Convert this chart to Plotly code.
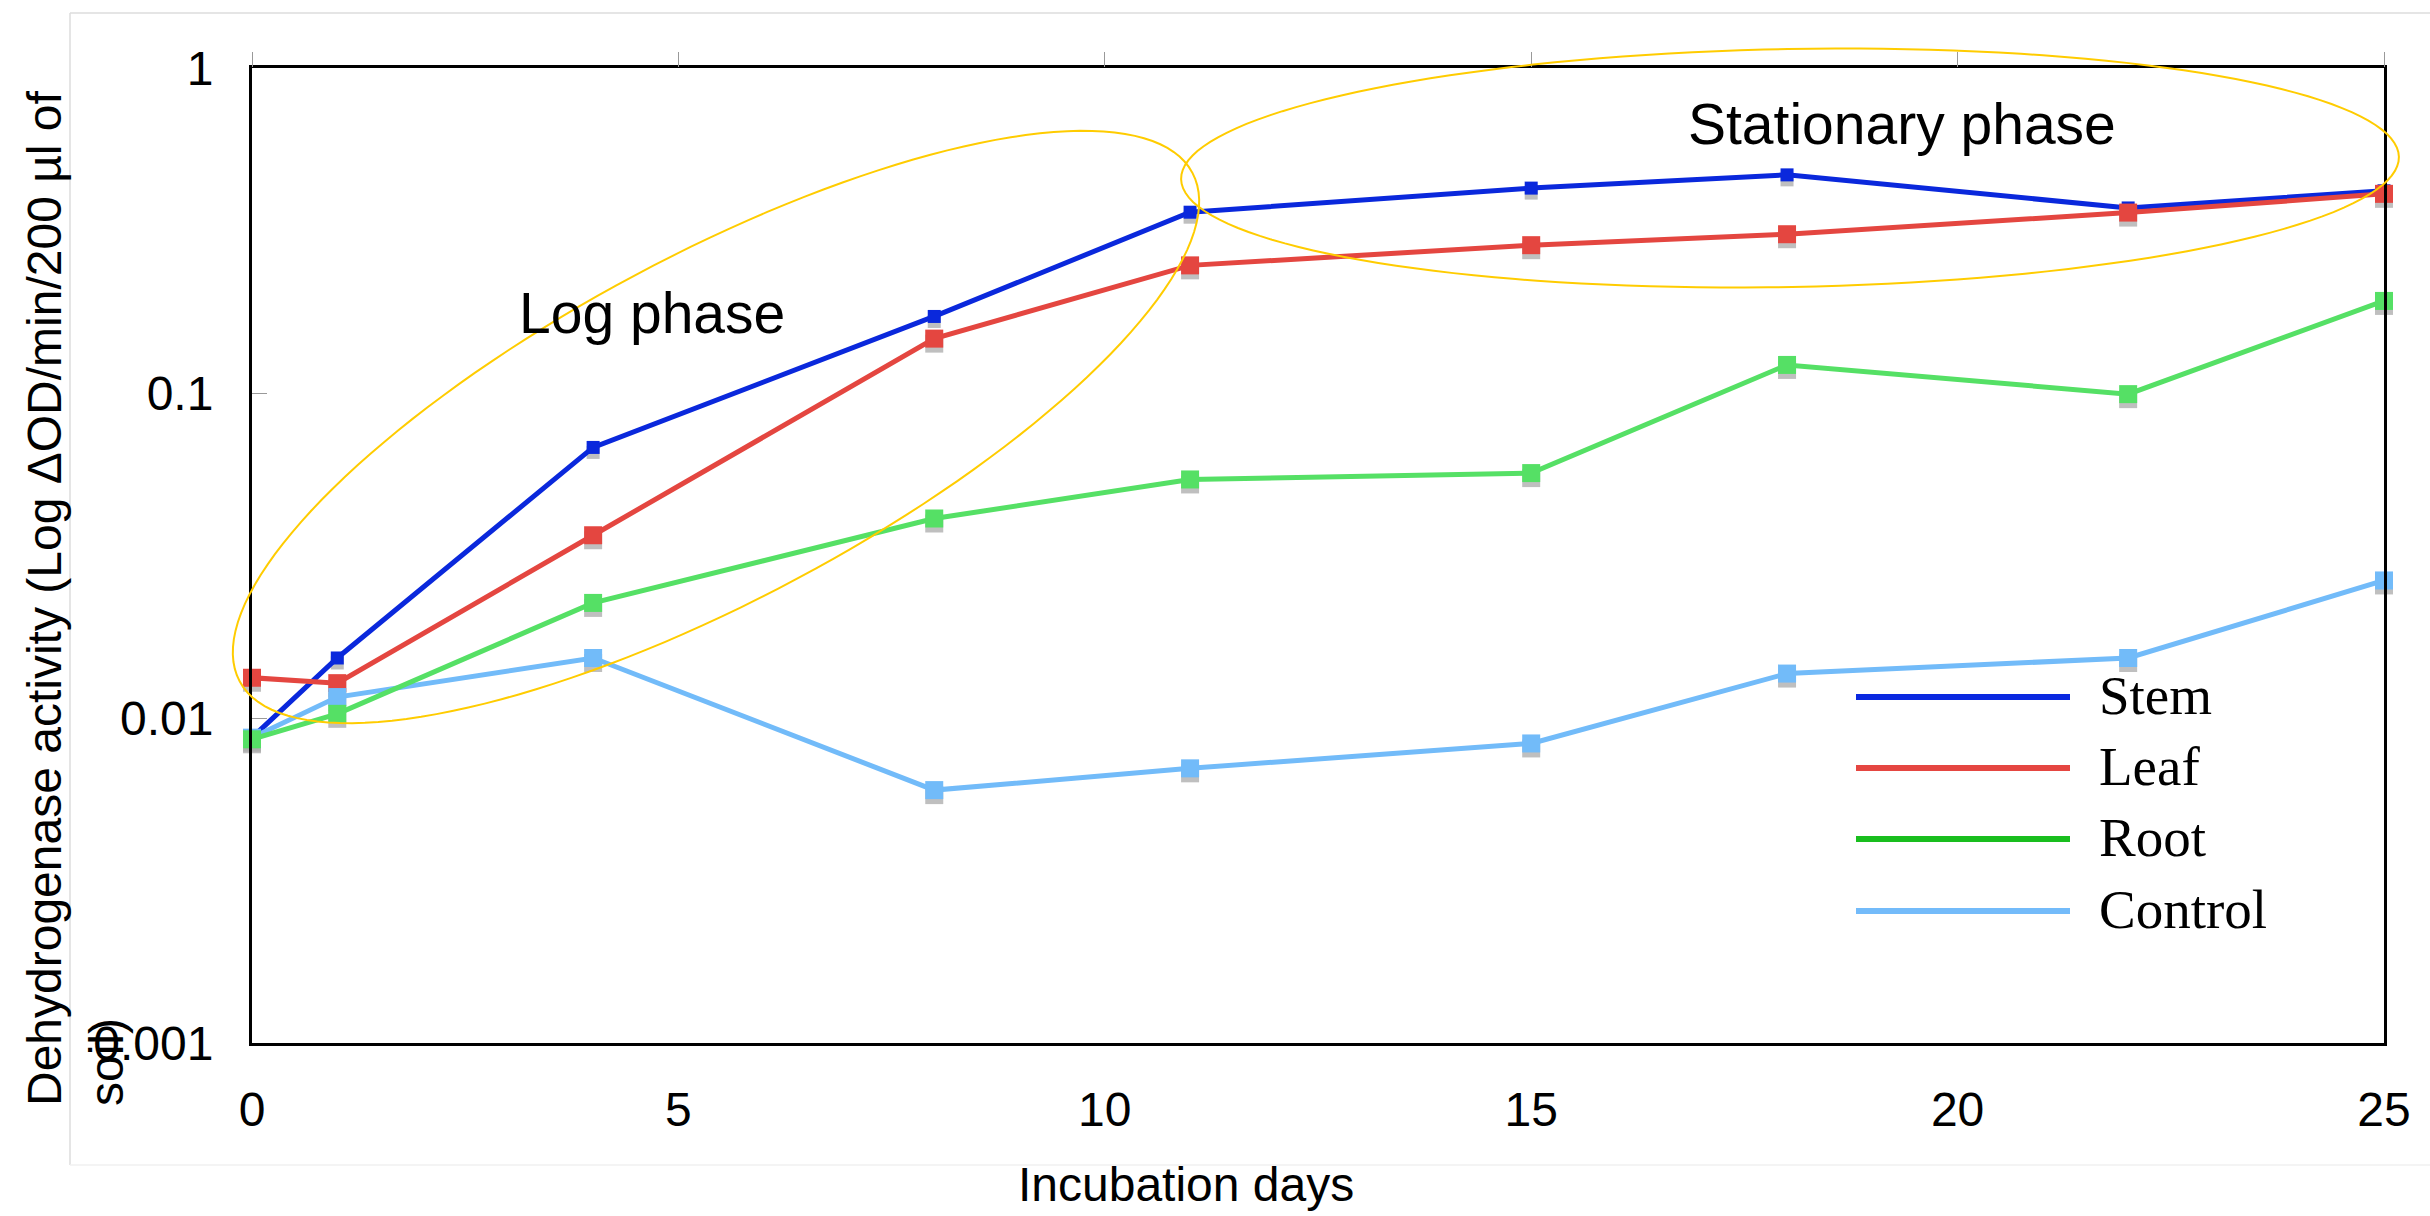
import numpy as np
import plotly.graph_objects as go

# Incubation time points (days)
days = [0, 1, 4, 8, 11, 15, 18, 22, 25]

# Dehydrogenase activity (ΔOD/min/200 µl of soil) per treatment
stem = [0.0087, 0.0153, 0.068, 0.172, 0.360, 0.427, 0.469, 0.371, 0.419]
leaf = [0.0133, 0.0128, 0.0365, 0.147, 0.247, 0.285, 0.308, 0.359, 0.410]
root = [0.0086, 0.0103, 0.0226, 0.0411, 0.0542, 0.0567, 0.122, 0.0992, 0.192]
control = [0.0087, 0.0116, 0.0153, 0.0060, 0.0070, 0.00835, 0.0137, 0.0153, 0.0265]

series_names = ["Stem", "Leaf", "Root", "Control"]
series_values = {"Stem": stem, "Leaf": leaf, "Root": root, "Control": control}
line_colors = {"Stem": "#0A28DC", "Leaf": "#E44640", "Root": "#55E065", "Control": "#72BBF9"}
key_colors = {"Stem": "#0A28E0", "Leaf": "#E54641", "Root": "#19BE1E", "Control": "#73BBFA"}
marker_sizes = {"Stem": 13, "Leaf": 18, "Root": 18, "Control": 18}
draw_order = ["Stem", "Leaf", "Control", "Root"]

x_ticks = [0, 5, 10, 15, 20, 25]
y_ticks = [0.001, 0.01, 0.1, 1]
y_tick_text = ["0.001", "0.01", "0.1", "1"]

# Figure geometry (pixels)
W, H = 2430, 1216
ML, MR, MT, MB = 252, 46, 68, 173
PW, PH = W - ML - MR, H - MT - MB
PX_PER_DECADE = PH / 3.0
SHADOW_PX = 5


def paper(xp, yp):
    """Pixel position on the page -> paper coordinates."""
    return (xp - ML) / PW, (H - MB - yp) / PH


def ellipse_path(cx, cy, a, b, tilt_deg, n=160):
    phi = np.radians(tilt_deg)
    t = np.linspace(0, 2 * np.pi, n, endpoint=False)
    xs = cx + a * np.cos(t) * np.cos(phi) - b * np.sin(t) * np.sin(phi)
    ys = cy - (a * np.cos(t) * np.sin(phi) + b * np.sin(t) * np.cos(phi))
    pts = [paper(x, y) for x, y in zip(xs, ys)]
    return "M " + " L ".join(f"{px:.5f},{py:.5f}" for px, py in pts) + " Z"


fig = go.Figure()

shadow_factor = 10 ** (-SHADOW_PX / PX_PER_DECADE)
for name in draw_order:
    vals = series_values[name]
    # soft drop shadow under each marker
    fig.add_trace(go.Scatter(
        x=days, y=[v * shadow_factor for v in vals], mode="markers",
        marker=dict(symbol="square", size=marker_sizes[name], color="rgba(170,170,170,0.75)"),
        showlegend=False, hoverinfo="skip", cliponaxis=False,
    ))
    fig.add_trace(go.Scatter(
        x=days, y=vals, mode="lines+markers", name=name,
        line=dict(color=line_colors[name], width=5),
        marker=dict(symbol="square", size=marker_sizes[name], color=line_colors[name]),
        showlegend=False, cliponaxis=False,
    ))

# carrier for the top tick axis
fig.add_trace(go.Scatter(x=[0, 25], y=[None, None], xaxis="x2", mode="lines",
                         showlegend=False, hoverinfo="skip"))

font_sans = "Liberation Sans, Arial, sans-serif"
font_serif = "Liberation Serif, Times New Roman, serif"

shapes = []
# light outer frame
fx0, fy0 = paper(70, 1165)
fx1, fy1 = paper(2440, 13)
shapes.append(dict(type="line", xref="paper", yref="paper", x0=fx0, x1=fx0, y0=fy0, y1=fy1,
                   line=dict(color="#DCDCDC", width=1.5), layer="below"))
shapes.append(dict(type="line", xref="paper", yref="paper", x0=fx0, x1=fx1, y0=fy1, y1=fy1,
                   line=dict(color="#DCDCDC", width=1.5), layer="below"))
shapes.append(dict(type="line", xref="paper", yref="paper", x0=fx0, x1=fx1, y0=fy0, y1=fy0,
                   line=dict(color="#F0F0F0", width=1.5), layer="below"))

# phase outlines
shapes.append(dict(type="path", xref="paper", yref="paper",
                   path=ellipse_path(716, 427, 540, 172, 28.1),
                   line=dict(color="#FFCC00", width=2)))
shapes.append(dict(type="path", xref="paper", yref="paper",
                   path=ellipse_path(1790, 168, 609, 119, 1.05),
                   line=dict(color="#FFCC00", width=2)))

annotations = []
# legend keys
key_x0, key_x1, text_x = 1856, 2070, 2097
row_y = [697, 768, 839, 911]
for name, yy in zip(series_names, row_y):
    x0p, yp = paper(key_x0, yy)
    x1p, _ = paper(key_x1, yy)
    shapes.append(dict(type="line", xref="paper", yref="paper", x0=x0p, x1=x1p, y0=yp, y1=yp,
                       line=dict(color=key_colors[name], width=6)))
    tx, ty = paper(text_x, yy - 2)
    annotations.append(dict(text=name, xref="paper", yref="paper", x=tx, y=ty,
                            xanchor="left", yanchor="middle", showarrow=False,
                            font=dict(family=font_serif, size=55, color="black")))

# phase labels
for label, cx, cy in [("Log phase", 652, 313), ("Stationary phase", 1902, 124)]:
    ax, ay = paper(cx, cy)
    annotations.append(dict(text=label, xref="paper", yref="paper", x=ax, y=ay,
                            xanchor="center", yanchor="middle", showarrow=False,
                            font=dict(family=font_sans, size=57, color="black")))

# axis titles
tx, ty = paper(1186, 1184)
annotations.append(dict(text="Incubation days", xref="paper", yref="paper", x=tx, y=ty,
                        xanchor="center", yanchor="middle", showarrow=False,
                        font=dict(family=font_sans, size=48, color="black")))
tx, ty = paper(75, 598)
annotations.append(dict(text="Dehydrogenase activity (Log ΔOD/min/200 µl of<br>soil)",
                        xref="paper", yref="paper", x=tx, y=ty, textangle=-90, align="left",
                        xanchor="center", yanchor="middle", showarrow=False,
                        font=dict(family=font_sans, size=48, color="black")))

fig.update_layout(
    width=W, height=H,
    margin=dict(l=ML, r=MR, t=MT, b=MB),
    paper_bgcolor="white", plot_bgcolor="white",
    showlegend=False,
    xaxis=dict(range=[0, 25], tickvals=x_ticks, ticks="", showgrid=False, zeroline=False,
               showline=True, linecolor="black", linewidth=3, mirror=True,
               ticklabelstandoff=22,
               tickfont=dict(family=font_sans, size=48, color="black")),
    xaxis2=dict(range=[0, 25], overlaying="x", side="top", tickvals=x_ticks,
                ticks="outside", ticklen=15, tickcolor="#999999", tickwidth=1,
                showticklabels=False, showline=False, showgrid=False, zeroline=False),
    yaxis=dict(type="log", range=[-3, 0], tickvals=y_ticks, ticktext=y_tick_text,
               ticks="inside", ticklen=15, tickcolor="#999999", tickwidth=1,
               showgrid=False, zeroline=False,
               showline=True, linecolor="black", linewidth=3, mirror=True,
               ticklabelstandoff=26,
               tickfont=dict(family=font_sans, size=48, color="black")),
    shapes=shapes,
    annotations=annotations,
)

fig.write_html("out.html")
